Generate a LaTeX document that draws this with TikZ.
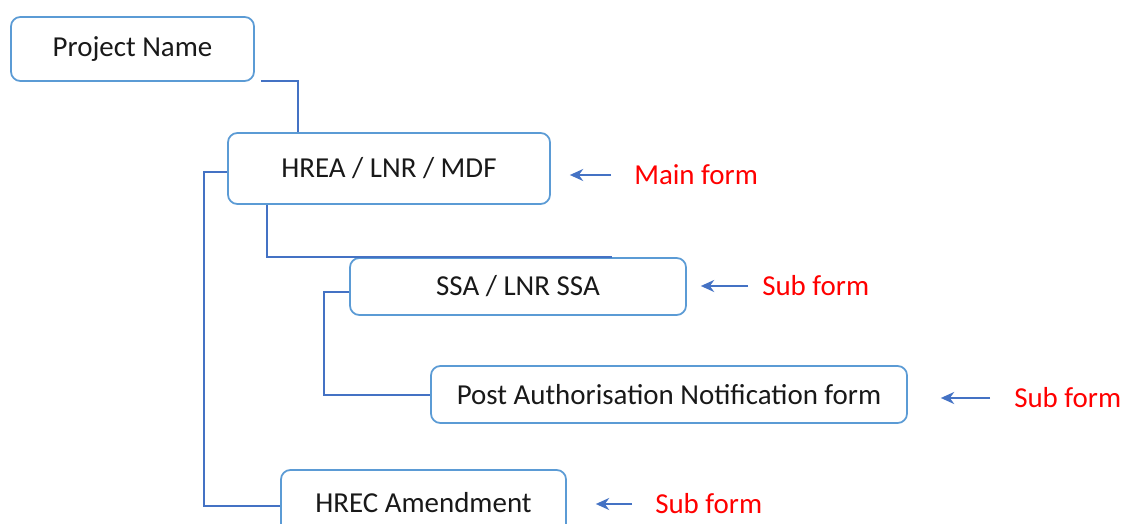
\documentclass[tikz,border=0pt]{standalone}
\usepackage{fontspec}
\setmainfont{Carlito}
\usetikzlibrary{arrows.meta}
\definecolor{lblu}{RGB}{91,155,213}
\definecolor{dblu}{RGB}{68,114,196}
\definecolor{nred}{RGB}{255,0,0}
\tikzstyle{form tree}=[
    form box/.style={rectangle, rounded corners=7pt, draw=lblu, line width=1.3pt, fill=white, text=black!90, inner sep=0pt, font={\fontsize{21.7}{26}\selectfont}},
    link/.style={dblu, line width=1.5pt},
    pointer/.style={dblu, line width=1.5pt, -{Stealth[length=10pt,width=9pt]}},
    note/.style={anchor=west, inner sep=0pt, text=nred, font={\fontsize{21.7}{26}\selectfont}},
]

\begin{document}
\begin{tikzpicture}
[
    form tree,
    x=.75pt, y=-.75pt
]
    \clip (0,0) rectangle (1122,524);
    \fill[white] (0,0) rectangle (1122,524);

    \node[form box, minimum width=182.25pt, minimum height=48pt] (proj) at (132.5,49) {Project Name};
    \node[form box, minimum width=241.5pt, minimum height=53.25pt] (hrea) at (389,168.5) {HREA / LNR / MDF};
    \node[form box, minimum width=252pt, minimum height=42.75pt] (ssa) at (518,286.5) {SSA / LNR SSA};
    \node[form box, minimum width=357pt, minimum height=42.75pt] (pan) at (669,394.5) {Post Authorisation Notification form};
    \node[form box, minimum width=213.75pt, minimum height=49.5pt] (hrec) at (423.5,503) {HREC Amendment};

    \node[note] (nmain) at (634,175) {Main form};
    \node[note] (nssa) at (762,286) {Sub form};
    \node[note] (npan) at (1014,398) {Sub form};
    \node[note] (nhrec) at (655,504) {Sub form};

    \draw[link] ([shift={(4.5pt,.75pt)}]proj.south east) -| ([xshift=53.25pt]hrea.north west);
    \draw[link] ([yshift=-3pt]hrea.west) -- ++(-23,0) |- ([yshift=-2pt]hrec.west);
    \draw[link] ([xshift=30pt]hrea.south west) |- ([xshift=197pt]ssa.north west);
    \draw[link] ([yshift=-4pt]ssa.west) -- ++(-25,0) |- (pan.west);

    \foreach \n/\b/\s/\t in {nmain/hrea/14.25/17.25, nssa/ssa/10.5/10.5, npan/pan/24.75/18, nhrec/hrec/21.75/17.25}
        \draw[pointer, shorten >=\s pt, shorten <=\t pt] (\n.west) -- (\n.west -| \b.east);
\end{tikzpicture}
\end{document}
